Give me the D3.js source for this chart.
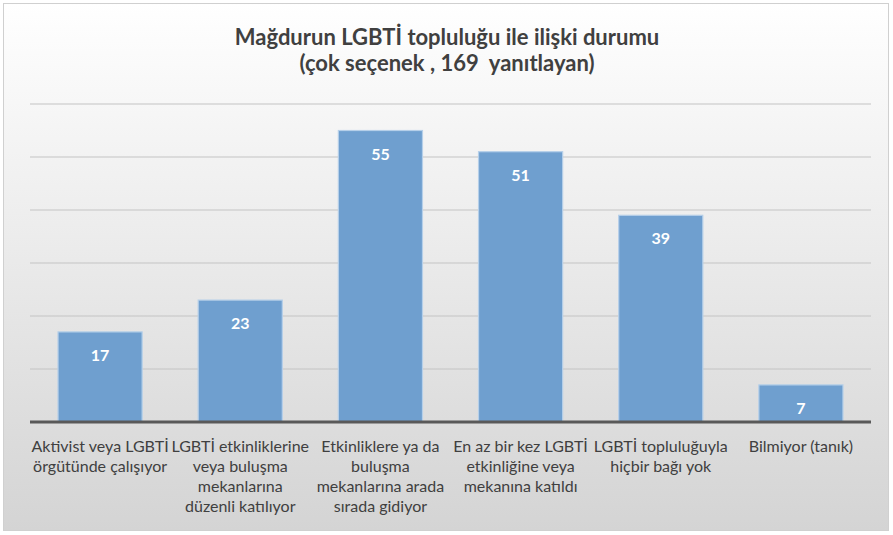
<!DOCTYPE html>
<html><head><meta charset="utf-8">
<script src="https://cdn.jsdelivr.net/npm/d3@7"></script>
<style>body{margin:0;background:#fff}svg{display:block}text{white-space:pre}</style>
</head><body>
<svg id="c" width="893" height="535"></svg>
<script>
const categories = [
  ["Aktivist veya LGBTİ", "örgütünde çalışıyor"],
  ["LGBTİ etkinliklerine", "veya buluşma", "mekanlarına", "düzenli katılıyor"],
  ["Etkinliklere ya da", "buluşma", "mekanlarına arada", "sırada gidiyor"],
  ["En az bir kez LGBTİ", "etkinliğine veya", "mekanına katıldı"],
  ["LGBTİ topluluğuyla", "hiçbir bağı yok"],
  ["Bilmiyor (tanık)"]
];
const values = [17, 23, 55, 51, 39, 7];
const yTicks = [0, 10, 20, 30, 40, 50, 60];
const titleLines = ["Mağdurun LGBTİ topluluğu ile ilişki durumu", "(çok seçenek , 169  yanıtlayan)"];

const svg = d3.select("#c");
const defs = svg.append("defs");
const g = defs.append("linearGradient").attr("id","bg").attr("x1",0).attr("y1",0).attr("x2",0).attr("y2",1);
g.append("stop").attr("offset","0%").attr("stop-color","#ffffff");
g.append("stop").attr("offset","100%").attr("stop-color","#d4d4d4");
svg.append("rect").attr("x",3.5).attr("y",3.5).attr("width",885).attr("height",527)
  .attr("fill","url(#bg)").attr("stroke","#d0d0d0").attr("stroke-width",1);

const pLeft = 30, pRight = 871, pTop = 104, pBottom = 422;
const x = d3.scaleBand().domain(d3.range(categories.length)).range([pLeft, pRight]).paddingInner(0.4).paddingOuter(0.2);
const y = d3.scaleLinear().domain([0, 60]).range([pBottom, pTop]);

svg.append("g").selectAll("line").data(yTicks.slice(1)).join("line")
  .attr("x1", pLeft).attr("x2", pRight).attr("y1", d => y(d)).attr("y2", d => y(d))
  .attr("stroke", "#c4c4c4").attr("stroke-width", 1.2);

svg.append("g").selectAll("rect").data(values).join("rect")
  .attr("x", (d,i) => x(i)).attr("width", x.bandwidth())
  .attr("y", d => y(d)).attr("height", d => y(0) - y(d))
  .attr("fill", "#6f9fcf").attr("stroke", "#b5cfe9").attr("stroke-width", 1.2);

svg.append("line").attr("x1", pLeft).attr("x2", pRight).attr("y1", y(0)).attr("y2", y(0))
  .attr("stroke", "#595959").attr("stroke-width", 3);

svg.append("g").selectAll("text").data(values).join("text")
  .attr("x", (d,i) => x(i) + x.bandwidth()/2).attr("y", d => y(d) + 29)
  .attr("text-anchor", "middle").attr("fill", "#ffffff")
  .attr("font-family", "Lato, 'Open Sans', sans-serif").attr("font-weight", "bold").attr("font-size", 16)
  .text(d => d);

const lab = svg.append("g").selectAll("text").data(categories).join("text")
  .attr("text-anchor", "middle").attr("fill", "#404040")
  .attr("font-family", "Lato, 'Open Sans', sans-serif").attr("font-size", 16);
lab.each(function(lines, i) {
  const t = d3.select(this);
  lines.forEach((l, k) => {
    t.append("tspan").attr("x", x(i) + x.bandwidth()/2).attr("y", 452 + k*20).text(l);
  });
});

svg.append("g").selectAll("text").data(titleLines).join("text")
  .attr("x", 447).attr("y", (d,i) => 45 + i*26)
  .attr("text-anchor", "middle").attr("fill", "#404040")
  .attr("font-family", "Lato, 'Open Sans', sans-serif").attr("font-weight", "bold").attr("font-size", 22)
  .text(d => d);
</script>
</body></html>
